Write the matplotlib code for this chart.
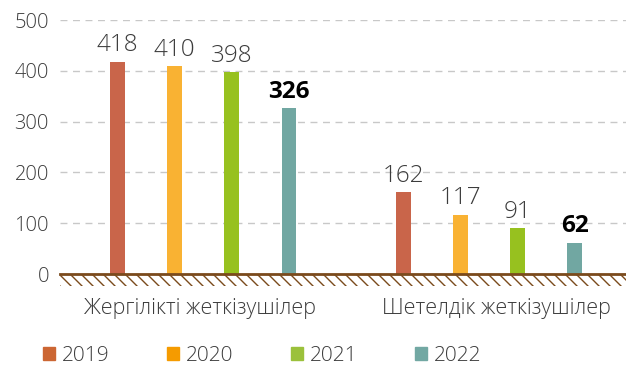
import matplotlib.pyplot as plt
from matplotlib.patches import Patch

# supplier counts by year
years = ["2019", "2020", "2021", "2022"]
groups = ["Жергілікті жеткізушілер", "Шетелдік жеткізушілер"]
local_vals = [418, 410, 398, 326]
foreign_vals = [162, 117, 91, 62]
colors = ["#C9654A", "#F9B233", "#97C11F", "#71A7A2"]
legend_colors = ["#CC6633", "#F59B00", "#9BC13B", "#72A8A3"]

plt.rcParams["font.family"] = ["Open Sans", "DejaVu Sans"]
txt = "#3c3c3c"

fig = plt.figure(figsize=(6.26, 3.66), dpi=100)
ax = fig.add_axes([60 / 626, 1 - 274 / 366, 566 / 626, 254 / 366])

group_start = [0, 5]
for g, vals in enumerate([local_vals, foreign_vals]):
    for i, v in enumerate(vals):
        x = group_start[g] + i
        ax.bar(x, v, width=0.26, color=colors[i], zorder=3)
        last = i == len(vals) - 1
        ax.annotate(str(v), (x, v), xytext=(0, 3), textcoords="offset points",
                    ha="center", va="bottom", fontsize=17.5,
                    color="black" if last else txt,
                    fontweight="bold" if last else "light")

ax.set_xlim(-1.01, 8.9)
ax.set_ylim(0, 500)
ax.set_yticks(range(0, 501, 100))
ax.tick_params(axis="y", length=0, pad=8, labelsize=14.5, labelcolor=txt)
ax.set_xticks([])
for lbl in ax.get_yticklabels():
    lbl.set_fontweight("light")
ax.grid(axis="y", color="#c8c8c8", linestyle=(0, (5, 4)), linewidth=1, zorder=0)
for s in ax.spines.values():
    s.set_visible(False)
ax.axhline(0, color="#7a4a1c", linewidth=2, zorder=4, clip_on=False)

# ground hatching under the baseline
hx = fig.add_axes([60 / 626, 1 - 286 / 366, 566 / 626, 12 / 366])
hx.set_xlim(0, 566)
hx.set_ylim(0, 12)
hx.axis("off")
for x0 in range(-12, 570, 11):
    hx.plot([x0, x0 + 12], [12, 0], color="#7a4a1c", linewidth=1)

# category labels
cat_x = [1.44, 6.63]
for cx, name in zip(cat_x, groups):
    ax.text(cx, -0.135, name, transform=ax.get_xaxis_transform(), ha="center",
            va="center", fontsize=15.5, color=txt, fontweight="light")

handles = [Patch(color=c) for c in legend_colors]
fig.legend(handles, years, loc="center left", bbox_to_anchor=(43 / 626, 1 - 356 / 366),
           ncol=4, frameon=False, prop={"size": 15, "weight": "light"},
           handlelength=0.57, handleheight=0.57, borderpad=0, borderaxespad=0,
           handletextpad=0.35, columnspacing=2.75, labelcolor=txt)

fig.savefig("out.png", dpi=100)
